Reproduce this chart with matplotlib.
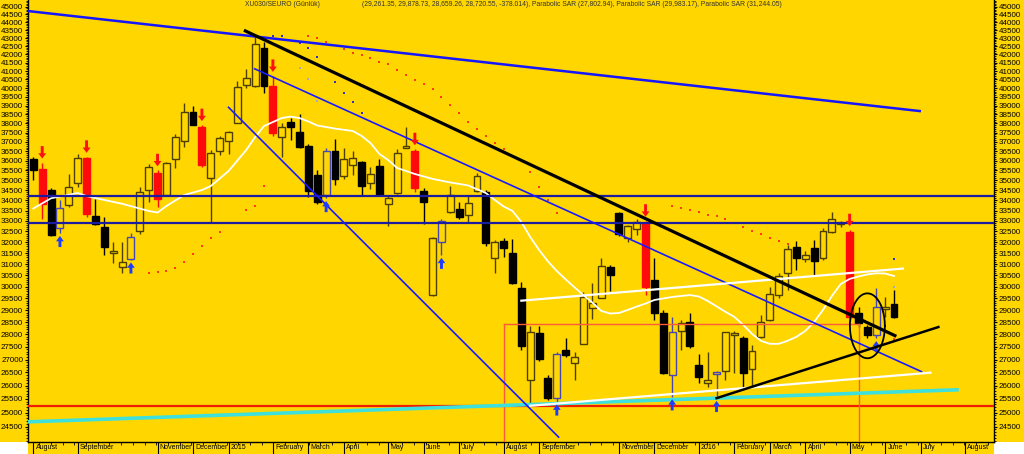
import numpy as np
import matplotlib
matplotlib.use('Agg')
import matplotlib.pyplot as plt
from matplotlib import font_manager
from matplotlib.ticker import FixedLocator, FuncFormatter, NullFormatter
from matplotlib.patches import Rectangle

# weekly candles, week of 2014-07-28 .. week of 2016-06-06
opens = [36070, 35600, 34500, 32650, 33770, 34880, 36170, 33240, 32720, 31500,
         30860, 31210, 32500, 34510, 35380, 34260, 36120, 37070, 38610, 37830,
         35130, 36530, 37070, 38020, 40170, 40110, 42380, 40110, 37290, 38090,
         37510, 36780, 35270, 34260, 36510, 35240, 35780, 35930, 34880, 35730,
         33840, 34340, 36700, 36530, 34480, 29640, 32020, 33430, 33560, 33270,
         34480, 34430, 31260, 32050, 31480, 29940, 26210, 28050, 26280, 25530,
         27380, 26880, 27610, 29080, 29530, 30880, 33370, 32180, 32600, 32920,
         30300, 28870, 26420, 28150, 28520, 26790, 26110, 26440, 26570, 27970,
         27870, 26620, 27890, 28590, 29640, 30590, 31760, 31220, 31750, 31260,
         32460, 32840, 32480, 28870, 28310, 27960, 29040, 29261]
highs = [36200, 35900, 34600, 34000, 35320, 36380, 36200, 34050, 33190, 32020,
         32020, 32420, 34680, 35830, 35500, 35950, 37400, 39120, 38970, 37900,
         36570, 37300, 37600, 40430, 41100, 43100, 42780, 40700, 38050, 38300,
         38500, 36900, 35530, 36700, 37140, 36650, 36500, 36000, 35690, 36120,
         34260, 36600, 37800, 36600, 34600, 32260, 33100, 34710, 33900, 34260,
         35360, 34500, 32100, 32200, 32130, 30220, 28340, 28340, 26400, 27300,
         27840, 27310, 29790, 30150, 31260, 30950, 33450, 32800, 33100, 33000,
         31260, 29010, 28730, 28590, 28870, 27220, 27310, 26550, 28100, 28150,
         27950, 27580, 28800, 30000, 30590, 31870, 32070, 31600, 32100, 32650,
         33450, 33000, 32550, 29150, 28400, 29960, 29540, 29879]
lows = [35000, 33100, 32300, 32420, 33690, 34680, 33200, 32800, 31410, 31040,
        30590, 31200, 32390, 33930, 33690, 34200, 35610, 36740, 37900, 35700,
        32890, 36290, 36380, 38000, 40000, 40050, 39700, 37300, 36200, 37100,
        36700, 34180, 33840, 34100, 34770, 35050, 35270, 34260, 34540, 34200,
        32760, 34300, 36650, 34400, 32860, 29600, 31410, 33400, 33100, 32970,
        34400, 31800, 30590, 31340, 30100, 27380, 25340, 26950, 25470, 25400,
        27110, 26210, 27600, 28620, 29500, 29830, 32300, 32000, 32340, 29640,
        28590, 26450, 25590, 27380, 27450, 26110, 25960, 25530, 26210, 26490,
        25960, 25960, 27850, 28550, 29500, 29860, 30740, 31100, 30520, 31200,
        32420, 32700, 28600, 28300, 27840, 27840, 28730, 28659]
closes = [35500, 33800, 32350, 33600, 34680, 36170, 33320, 32850, 31760, 31600,
          31110, 32230, 34410, 35660, 34050, 35900, 37280, 38620, 37920, 35780,
          36410, 37210, 37510, 40080, 40570, 42650, 40110, 37460, 37800, 37830,
          36740, 34480, 33930, 36530, 35060, 36120, 36170, 34710, 35320, 34260,
          34100, 36430, 36750, 34590, 33930, 32180, 33010, 34260, 33180, 33870,
          35210, 31980, 32020, 31720, 30180, 27550, 28080, 27010, 25530, 27220,
          27180, 27090, 29570, 29290, 30930, 30520, 32380, 32760, 32970, 29990,
          28900, 26490, 28110, 28450, 27530, 26340, 26210, 26500, 28080, 28050,
          26470, 27330, 28520, 29690, 30470, 31670, 31290, 31410, 31160, 32530,
          33090, 32850, 28730, 28450, 27990, 29120, 29120, 28721]

sell_weeks = [1, 6, 14, 19, 27, 43, 69, 92]
buy_weeks = [3, 11, 33, 46, 59, 72, 77, 95]

month_labels = ['August', 'September', 'November', 'December', '2015', 'February',
                'March', 'April', 'May', 'June', 'July', 'August', 'September',
                'November', 'December', '2016', 'February', 'March', 'April', 'May',
                'June', 'July', 'August']
month_weeks = [0, 5, 14, 18, 22, 27, 31, 35, 40, 44, 48, 53, 57, 66, 70, 75, 79, 83,
               87, 92, 96, 100, 105]

# white moving average
ma_weeks = [0, 2, 5, 6, 8, 10, 13, 14, 15, 17, 19, 20, 22, 24, 25, 26, 28, 29, 30, 31,
            32, 34, 36, 37, 38, 39, 40, 41, 43, 45, 47, 49, 51, 52, 53, 54, 55, 56, 57,
            58, 59, 60, 61, 62, 63, 64, 65, 66, 67, 68, 69, 70, 72, 74, 75, 76, 77, 78,
            79, 80, 81, 82, 83, 84, 85, 86, 87, 88, 89, 90, 91, 92, 93, 94, 95, 96, 97]
ma_vals = [33600, 34100, 34360, 34210, 34016, 33830, 33480, 33400, 33720, 34260, 34510,
           34710, 35470, 36570, 37260, 37860, 38300, 38380, 38300, 38110, 37890, 37720,
           37590, 37320, 36940, 36360, 36040, 35630, 35320, 35070, 34890, 34740, 34360,
           34016, 33700, 33480, 32950, 32240, 31640, 31120, 30690, 30320, 29970, 29640,
           29320, 28970, 28860, 28880, 29010, 29150, 29280, 29430, 29560, 29640, 29580,
           29390, 29160, 28930, 28720, 28390, 28020, 27740, 27620, 27620, 27740, 27900,
           28140, 28510, 29010, 29600, 30120, 30340, 30450, 30540, 30590, 30580, 30470]

# parabolic SAR dots that could be read
sar_red_weeks = [13, 14, 15, 16, 17, 18, 19, 20, 21, 23, 24, 25, 26, 31, 32, 33, 35, 36,
                 37, 38, 39, 40, 41, 42, 43, 44, 45, 46, 47, 48, 49, 50, 51, 52, 53, 56,
                 57, 58, 59, 72, 73, 74, 75, 76, 77, 78, 80, 81, 82, 83, 84, 85, 97]
sar_red = [30590, 30660, 30710, 30810, 31080, 31440, 31840, 32180, 32490, 32920, 33540,
           33700, 34710, 43140, 43010, 42760, 42350, 42110, 41950, 41750, 41550, 41400,
           41060, 40770, 40470, 40220, 39940, 39470, 39020, 38590, 38100, 37700, 37320,
           36940, 36610, 35410, 34680, 34016, 33370, 33700, 33620, 33530, 33420, 33290,
           33220, 33110, 32730, 32540, 32370, 32210, 32060, 31900, 27803]
sar_blue_weeks = [27, 28, 30, 31, 32, 34, 35, 36, 37, 97]
sar_blue = [43140, 43140, 42670, 42410, 41850, 40340, 39730, 39200, 38590, 31244]
sar_gray_weeks = [29, 30, 31, 32, 97]
sar_gray = [42870, 41170, 40510, 39260, 29983]

# drawn lines: (week, price) end points
top_line = ([-0.6, 99.9], [44720, 38690])
chan_upper = ([24.95, 100.1], [41130, 26530])
chan_lower = ([22.0, 59.2], [38900, 24130])
black_upper = ([23.9, 97.1], [43450, 27950])
black_lower = ([77.0, 102.0], [25530, 28300])
white_upper = ([55.0, 98.0], [29400, 30800])
white_lower = ([56.0, 101.1], [25250, 26490])
cyan_line = ([-0.6, 104.1], [24670, 25840])
blue_levels = [34230, 32920]
red_level = 25260
box_weeks = [53, 93]
box_top = 28420
ring_week, ring_price = 94.0, 28350

GOLD = '#ffd600'
OLIVE = '#4d3f00'

names = {f.name for f in font_manager.fontManager.ttflist}
narrow = 'Liberation Sans Narrow' in names
fam = 'Liberation Sans Narrow' if narrow else 'Liberation Sans'
fs_tick = 6.9 if narrow else 5.8
fs_month = 6.0 if narrow else 5.0
fs_head = 5.95 if narrow else 4.9
plt.rcParams['font.family'] = [fam, 'DejaVu Sans']

fig = plt.figure(figsize=(10.24, 4.54), dpi=100, facecolor=GOLD)
ax = fig.add_axes([28 / 1024, 12 / 454, 966 / 1024, 442 / 454])
ax.set_facecolor(GOLD)
ax.set_yscale('log')

n = len(opens)
wk = np.arange(n)
o = np.array(opens, float)
h = np.array(highs, float)
l = np.array(lows, float)
c = np.array(closes, float)

face, edge = [], []
for i in range(n):
    if i in sell_weeks:
        face.append('#ff0a0a'); edge.append('#ff0a0a')
    elif i in buy_weeks:
        face.append(GOLD); edge.append('#4646b4')
    elif c[i] < o[i]:
        face.append('black'); edge.append('black')
    else:
        face.append(GOLD); edge.append(OLIVE)

ax.vlines(wk, l, h, colors=edge, lw=1.0, zorder=2)
bottom = np.minimum(o, c)
height = np.maximum(np.abs(c - o), bottom * 0.0015)
ax.bar(wk, height, bottom=bottom, width=0.78, color=face, edgecolor=edge,
       linewidth=1.0, zorder=3)

# signal arrows
for i in sell_weeks:
    ax.annotate('', xy=(i, h[i]), xytext=(0, 12), textcoords='offset points',
                arrowprops=dict(arrowstyle='simple,head_length=0.55,head_width=0.8,tail_width=0.3',
                                fc='#ff1010', ec='#ff1010', lw=0, shrinkA=0, shrinkB=3,
                                mutation_scale=7), zorder=6)
for i in buy_weeks:
    ax.annotate('', xy=(i, l[i]), xytext=(0, -10), textcoords='offset points',
                arrowprops=dict(arrowstyle='simple,head_length=0.55,head_width=0.8,tail_width=0.3',
                                fc='#1e3cff', ec='#1e3cff', lw=0, shrinkA=0, shrinkB=2,
                                mutation_scale=7), zorder=6)

# SAR dots
ax.plot(sar_red_weeks, sar_red, 's', ms=1.6, color='#ff3a10', mew=0, zorder=4)
ax.plot(sar_blue_weeks, sar_blue, 's', ms=1.6, color='#3030c8', mew=0, zorder=4)
ax.plot(sar_gray_weeks, sar_gray, 's', ms=1.6, color='#a8a8c8', mew=0, zorder=4)

# moving average
ax.plot(ma_weeks, ma_vals, color='white', lw=1.3, zorder=5)

# horizontal levels
for lv in blue_levels:
    ax.axhline(lv, color='#1c1ca0', lw=1.6, zorder=5)
ax.axhline(red_level, color='#f01e00', lw=1.6, zorder=5)

# box
ax.plot([box_weeks[0], box_weeks[1]], [box_top, box_top], color='#ff5a3c', lw=1.0, zorder=5)
for bw in box_weeks:
    ax.plot([bw, bw], [box_top, 20000], color='#ff5a3c', lw=1.0, zorder=5)

# trend lines
ax.plot(*cyan_line, color='#3ee0dc', lw=2.6, zorder=5)
ax.plot(*top_line, color='#1515ff', lw=1.8, zorder=5)
ax.plot(*chan_upper, color='#1a1aff', lw=1.2, zorder=5)
ax.plot(*chan_lower, color='#1a1aff', lw=1.2, zorder=5)
ax.plot(*white_upper, color='white', lw=1.6, zorder=5)
ax.plot(*white_lower, color='white', lw=1.6, zorder=5)
ax.plot(*black_upper, color='black', lw=2.3, zorder=6)
ax.plot(*black_lower, color='black', lw=1.8, zorder=6)

t = np.linspace(0, 2 * np.pi, 200)
ax.plot(ring_week + 1.97 * np.cos(t), ring_price * np.exp(0.047 * np.sin(t)),
        color='black', lw=1.3, zorder=7)

# axes
ax.set_xlim(-0.6, 108.27)
ax.set_ylim(23960, 45440)
levels = np.arange(24500, 45001, 500)
ax.yaxis.set_major_locator(FixedLocator(levels))
ax.yaxis.set_major_formatter(FuncFormatter(lambda v, p: f'{v:.0f}'))
ax.yaxis.set_minor_locator(FixedLocator(np.arange(24000, 45500, 100)))
ax.yaxis.set_minor_formatter(NullFormatter())
ax.tick_params(axis='y', which='major', left=True, right=True, labelleft=True,
               labelright=True, length=2.5, width=0.8, pad=1.0, labelsize=fs_tick,
               colors='black')
ax.tick_params(axis='y', which='minor', left=True, right=True, length=1.5, width=0.6)

ax.set_xticks(month_weeks)
ax.set_xticklabels([])
ax.set_xticks(np.arange(0.66, 108, 1.32), minor=True)
ax.tick_params(axis='x', which='major', length=9, width=0.8, direction='out')
ax.tick_params(axis='x', which='minor', length=2.5, width=0.6, direction='out')
for pos, lab in zip(month_weeks, month_labels):
    ax.text(pos + 0.25, -0.004, lab, transform=ax.get_xaxis_transform(),
            ha='left', va='top', fontsize=fs_month, color='black')

for side in ['left', 'right', 'bottom']:
    ax.spines[side].set_color('black')
    ax.spines[side].set_linewidth(1.0)
ax.spines['top'].set_visible(False)

fig.text(245 / 1024, 1 - 1.5 / 454, 'XU030/SEURO (Günlük)', ha='left', va='top',
         fontsize=fs_head, color='#333333')
fig.text(362 / 1024, 1 - 1.5 / 454,
         '(29,261.35, 29,878.73, 28,659.26, 28,720.55, -378.014), Parabolic SAR (27,802.94), '
         'Parabolic SAR (29,983.17), Parabolic SAR (31,244.05)',
         ha='left', va='top', fontsize=fs_head, color='#333333')

fig.patches.append(Rectangle((0, 0), 28 / 1024, 12 / 454, transform=fig.transFigure,
                             facecolor='white', edgecolor='none', zorder=-1))
fig.patches.append(Rectangle((994 / 1024, 0), 30 / 1024, 12 / 454, transform=fig.transFigure,
                             facecolor='white', edgecolor='none', zorder=-1))

fig.savefig('out.png', dpi=100, facecolor=GOLD)
